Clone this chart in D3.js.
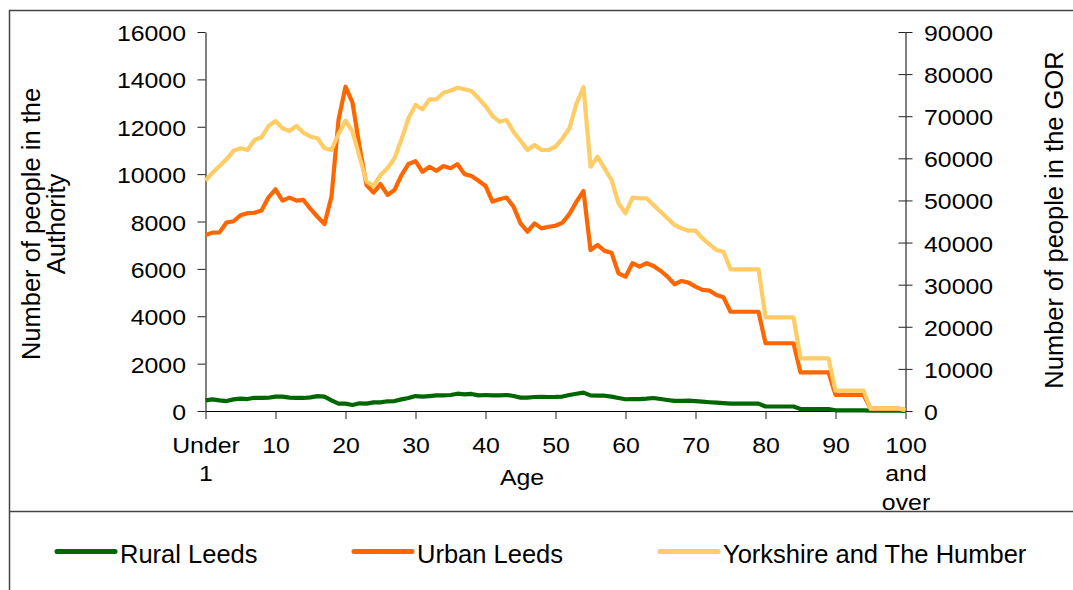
<!DOCTYPE html>
<html>
<head>
<meta charset="utf-8">
<script src="https://cdn.jsdelivr.net/npm/d3@7"></script>
<style>
    body { margin: 0; background: #fff; }
    svg { display: block; font-family: "Liberation Sans", Arial, sans-serif; }
</style>
</head>
<body>
<div id="chart"></div>
<script>
// single years of age, 0 = "Under 1", 100 = "100 and over"
const ages = d3.range(0, 101);

const ruralLeeds = [
    450, 490, 450, 420, 490, 520, 505, 560, 550, 560,
    605, 605, 565, 550, 550, 575, 630, 605, 450, 310,
    310, 255, 325, 310, 365, 365, 410, 420, 490, 550,
    630, 605, 630, 660, 660, 675, 730, 705, 720, 660,
    675, 660, 660, 675, 635, 565, 565, 590, 600, 590,
    595, 610, 675, 730, 775, 660, 650, 645, 605, 550,
    495, 505, 505, 520, 550, 505, 465, 425, 425, 435,
    420, 395, 370, 350, 330, 310, 310, 310, 310, 310,
    190, 190, 190, 190, 190, 85, 85, 85, 85, 85,
    30, 30, 30, 30, 30, 12, 12, 12, 12, 12,
    8
];

const urbanLeeds = [
    7430, 7530, 7540, 7960, 8010, 8260, 8350, 8370, 8460, 9020,
    9360, 8880, 9010, 8880, 8910, 8530, 8200, 7890, 9050, 12290,
    13690, 13020, 11160, 9540, 9220, 9580, 9120, 9330, 9960, 10430,
    10550, 10100, 10310, 10140, 10340, 10250, 10420, 10000, 9920, 9720,
    9500, 8840, 8940, 9010, 8630, 7920, 7570, 7920, 7710, 7780,
    7820, 7950, 8320, 8840, 9290, 6800, 7010, 6760, 6680, 5810,
    5670, 6240, 6090, 6240, 6120, 5920, 5670, 5350, 5490, 5420,
    5250, 5110, 5080, 4900, 4800, 4190, 4190, 4190, 4190, 4190,
    2860, 2860, 2860, 2860, 2860, 1630, 1630, 1630, 1630, 1630,
    680, 680, 680, 680, 680, 100, 100, 100, 100, 100,
    40
];

// plotted on the secondary (GOR) axis
const yorkshireHumber = [
    54690, 56590, 58180, 59770, 61810, 62380, 61980, 64350, 65000, 67680,
    68870, 67130, 66490, 67680, 66090, 65140, 64760, 62380, 61980, 65780,
    68940, 66330, 60390, 54500, 53430, 56040, 57630, 60010, 64520, 69510,
    72670, 71640, 74020, 74020, 75590, 76060, 76770, 76390, 75990, 74250,
    72430, 70050, 68700, 69100, 66330, 64190, 61980, 63170, 61980, 61980,
    62770, 64760, 67130, 73070, 76870, 58020, 60390, 57630, 54860, 49320,
    46950, 50650, 50510, 50510, 48920, 47330, 45760, 44170, 43390, 42820,
    42820, 41000, 39590, 38230, 37830, 33650, 33650, 33650, 33650, 33650,
    22250, 22250, 22250, 22250, 22250, 12510, 12510, 12510, 12510, 12510,
    4820, 4820, 4820, 4820, 4820, 550, 550, 550, 550, 550,
    240
];

const leftTicks = [0, 2000, 4000, 6000, 8000, 10000, 12000, 14000, 16000];
const rightTicks = [0, 10000, 20000, 30000, 40000, 50000, 60000, 70000, 80000, 90000];
const xTickAges = [0, 10, 20, 30, 40, 50, 60, 70, 80, 90, 100];
const xTickLabels = [["Under", "1"], ["10"], ["20"], ["30"], ["40"], ["50"], ["60"], ["70"], ["80"], ["90"], ["100", "and", "over"]];

const seriesNames = ["Rural Leeds", "Urban Leeds", "Yorkshire and The Humber"];
const seriesColors = ["#006600", "#ff6600", "#ffcc66"];

const W = 1073, H = 590;
const svg = d3.select("#chart").append("svg")
    .attr("width", W)
    .attr("height", H);

const x = d3.scaleLinear().domain([0, 100]).range([205.5, 905.5]);
const yL = d3.scaleLinear().domain([0, 16000]).range([411, 32]);
const yR = d3.scaleLinear().domain([0, 90000]).range([411, 32]);

const stretch = 1.13; // axis text in the original is a little wide

// frame
svg.append("path")
    .attr("d", `M9.5,${H} V10.5 H${W}`)
    .attr("fill", "none")
    .attr("stroke", "#444")
    .attr("stroke-width", 1.5);
svg.append("path")
    .attr("d", `M9.5,511.5 H${W}`)
    .attr("fill", "none")
    .attr("stroke", "#444")
    .attr("stroke-width", 1.5);

// left axis
const gL = svg.append("g")
    .attr("transform", `translate(${x.range()[0]},0)`)
    .call(d3.axisLeft(yL).tickValues(leftTicks).tickSize(8).tickSizeOuter(0).tickFormat(d3.format("d")));
gL.selectAll("text")
    .attr("x", 0).attr("dy", null).attr("y", 0)
    .attr("transform", `translate(-19.5,8.5) scale(${stretch},1)`)
    .style("text-anchor", "end");

// right axis (ticks cross the axis line)
const gR = svg.append("g")
    .attr("transform", `translate(${x.range()[1]},0)`)
    .call(d3.axisRight(yR).tickValues(rightTicks).tickSize(7).tickSizeOuter(0).tickFormat(d3.format("d")));
gR.selectAll(".tick").append("line")
    .attr("x1", -7).attr("x2", 0)
    .attr("stroke", "currentColor");
gR.selectAll("text")
    .attr("x", 0).attr("dy", null).attr("y", 0)
    .attr("transform", `translate(18.5,8.5) scale(${stretch},1)`)
    .style("text-anchor", "start");

// bottom axis
const gX = svg.append("g")
    .attr("transform", `translate(0,${yL(0)})`)
    .call(d3.axisBottom(x).tickValues(xTickAges).tickSize(8).tickSizeOuter(0).tickFormat(""));
gX.selectAll(".tick text").remove();
gX.selectAll(".tick").append("text")
    .attr("transform", `translate(0,41.5) scale(${stretch},1)`)
    .attr("fill", "#000")
    .style("text-anchor", "middle")
    .selectAll("tspan")
    .data((d, i) => xTickLabels[i])
    .enter().append("tspan")
    .attr("x", 0)
    .attr("y", (d, i) => i * 28.8)
    .text(d => d);

[gL, gR, gX].forEach(g => {
    g.selectAll("text").attr("fill", "#000").style("font-size", "22px")
        .style("font-family", '"Liberation Sans", Arial, sans-serif');
    g.selectAll("line").attr("stroke", "#222");
    g.select(".domain").attr("stroke", "#000");
});

// axis titles
svg.append("text")
    .attr("transform", `translate(522,485) scale(${stretch},1)`)
    .style("text-anchor", "middle")
    .style("font-size", "22px")
    .text("Age");

svg.append("text")
    .attr("transform", "translate(39.5,224) rotate(-90)")
    .style("text-anchor", "middle")
    .style("font-size", "25.5px")
    .selectAll("tspan")
    .data(["Number of people in the", "Authority"])
    .enter().append("tspan")
    .attr("x", 0)
    .attr("y", (d, i) => i * 25.5)
    .text(d => d);

svg.append("text")
    .attr("transform", "translate(1062.5,220) rotate(-90)")
    .style("text-anchor", "middle")
    .style("font-size", "25.5px")
    .text("Number of people in the GOR");

// lines
const lineL = d3.line().x((d, i) => x(ages[i])).y(d => yL(d));
const lineR = d3.line().x((d, i) => x(ages[i])).y(d => yR(d));

const plotted = [
    { values: ruralLeeds, line: lineL },
    { values: urbanLeeds, line: lineL },
    { values: yorkshireHumber, line: lineR }
];

svg.append("g").selectAll("path")
    .data(plotted)
    .enter().append("path")
    .attr("fill", "none")
    .attr("stroke", (d, i) => seriesColors[i])
    .attr("stroke-width", 4.2)
    .attr("stroke-linejoin", "round")
    .attr("d", d => d.line(d.values));

// legend
const legendX = [57, 354, 660];
const legend = svg.append("g").selectAll("g")
    .data(seriesNames)
    .enter().append("g")
    .attr("transform", (d, i) => `translate(${legendX[i]},551.5)`);

legend.append("line")
    .attr("x1", 0).attr("x2", 58)
    .attr("stroke", (d, i) => seriesColors[i])
    .attr("stroke-width", 5)
    .attr("stroke-linecap", "round");

legend.append("text")
    .attr("x", 63)
    .attr("y", 11)
    .style("font-size", "25.5px")
    .text(d => d);
</script>
</body>
</html>
